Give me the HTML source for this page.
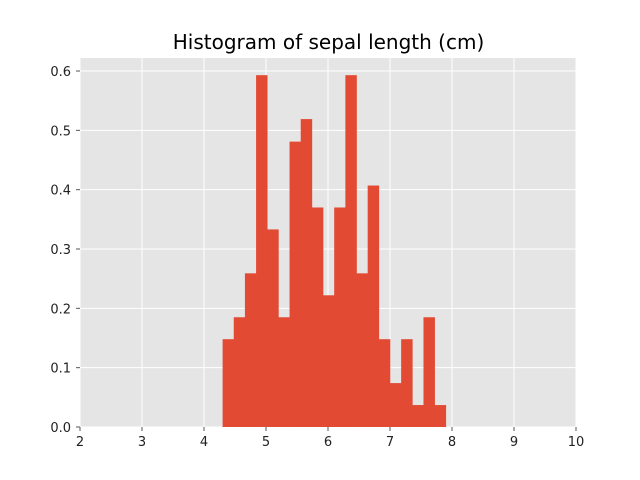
<!DOCTYPE html>
<html><head><meta charset="utf-8"><style>body{margin:0;background:#fff}svg{display:block}</style></head>
<body>
<svg id="chart" width="640" height="480" xmlns="http://www.w3.org/2000/svg" font-family="DejaVu Sans, sans-serif">
<rect x="80" y="58" width="496" height="369" fill="#E5E5E5"/>
<g id="grid"></g><g id="bars"></g><g id="ticks"></g>
<text x="328.5" y="49" text-anchor="middle" font-size="20" fill="#000">Histogram of sepal length (cm)</text>
</svg>
<script>
const binStart = 4.3;
const binWidth = 0.18;
const densities = [0.148,0.185,0.259,0.593,0.333,0.185,0.481,0.519,0.370,0.222,0.370,0.593,0.259,0.407,0.148,0.074,0.148,0.037,0.185,0.037];
const xTicks = [2,3,4,5,6,7,8,9,10];
const yTicks = [0.0,0.1,0.2,0.3,0.4,0.5,0.6];
const NS="http://www.w3.org/2000/svg";
const X=v=>80+(v-2)*62, Y=v=>427-v*593.3;
function mk(t,a,p){const e=document.createElementNS(NS,t);for(const k in a)e.setAttribute(k,a[k]);p.appendChild(e);return e;}
const grid=document.getElementById('grid'),bars=document.getElementById('bars'),ticks=document.getElementById('ticks');
xTicks.forEach(t=>{
 const l=mk('line',{x1:X(t),x2:X(t),y1:58,y2:427,stroke:'#fff','stroke-width':1},grid);
 
 
 const tk=mk('line',{x1:X(t),x2:X(t),y1:427,y2:431,stroke:'#555'},ticks);
 
 
 const tx=mk('text',{x:X(t),y:446,'text-anchor':'middle','font-size':13,fill:'#222'},ticks);
 tx.textContent=t;
 
 
});
yTicks.forEach(t=>{
 const l=mk('line',{x1:80,x2:576,y1:Y(t),y2:Y(t),stroke:'#fff','stroke-width':1},grid);
 
 
 const tk=mk('line',{x1:76,x2:80,y1:Y(t),y2:Y(t),stroke:'#555'},ticks);
 
 
 const tx=mk('text',{x:71,y:Y(t)+5,'text-anchor':'end','font-size':13,fill:'#222'},ticks);
 tx.textContent=t.toFixed(1);
 
 
});
densities.forEach((d,i)=>{
 const x0=X(binStart+i*binWidth),x1=X(binStart+(i+1)*binWidth);
 const r=mk('rect',{x:x0,y:Y(d),width:x1-x0+0.3,height:Y(0)-Y(d),fill:'#E24A33'},bars);
 
 
});
</script>
</body></html>
